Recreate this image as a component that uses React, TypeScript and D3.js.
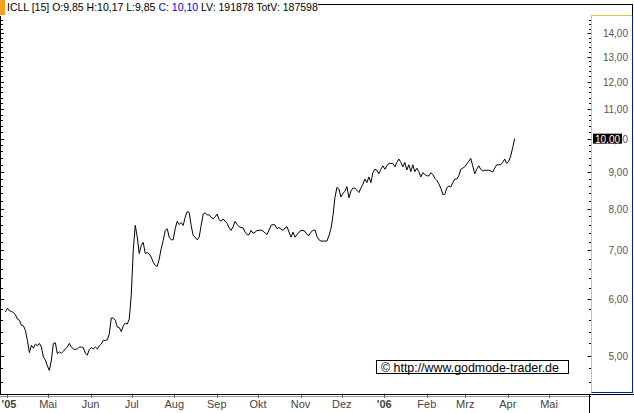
import { useEffect, useRef } from 'react'
import * as d3 from 'd3'

// header quote line
const headerLeft = 'ICLL [15] O:9,85 H:10,17 L:9,85 '
const headerClose = 'C: 10,10'
const headerRight = ' LV: 191878 TotV: 187598'
const copyright = '\u00A9 http://www.godmode-trader.de'

// series is sampled evenly between these two dates
const startDate = '2005-03-31'
const endDate = '2006-04-06'

// closes, left to right
const closesA = [
  5.75, 5.82, 5.77, 5.76, 5.74, 5.7, 5.62, 5.6, 5.51, 5.5,
  5.42, 5.25, 5.05, 5.17, 5.12, 5.19, 5.16, 5.2, 5.14, 4.98,
  4.93, 4.84, 4.77, 4.93, 5.2, 5.21, 5.03, 5.06, 5.04, 5.07,
  5.11, 5.14, 5.2, 5.14, 5.11, 5.1, 5.11, 5.14, 5.14, 5.13,
  5.04, 5.01, 5.1, 5.13, 5.11, 5.14, 5.11, 5.16, 5.19, 5.25,
  5.25, 5.26, 5.36, 5.64, 5.64, 5.6, 5.48, 5.47, 5.4, 5.5,
  5.55, 5.53, 5.62, 6.06, 7.0, 7.58, 7.3, 6.93, 7.11, 7.18,
  6.93, 6.95, 6.92, 6.85, 6.74, 6.67, 6.65, 6.81, 7.04, 7.22,
  7.46, 7.5, 7.3, 7.24, 7.24,
]
const closesB = [
  7.5, 7.68, 7.6, 7.65, 7.58, 7.78, 7.92, 7.9, 7.58, 7.34,
  7.3, 7.24, 7.3, 7.58, 7.86, 7.89, 7.84, 7.84, 7.78, 7.74,
  7.79, 7.86, 7.72, 7.68, 7.74, 7.68, 7.63, 7.52, 7.46, 7.55,
  7.68, 7.6, 7.55, 7.53, 7.52, 7.42, 7.36, 7.36, 7.46, 7.39,
  7.42, 7.46, 7.46, 7.47, 7.44, 7.4, 7.36, 7.47, 7.58, 7.6,
  7.59, 7.5, 7.53, 7.49, 7.46, 7.52, 7.55, 7.42, 7.3, 7.42,
  7.3, 7.36, 7.42, 7.46, 7.46, 7.44, 7.36, 7.34, 7.42, 7.46,
  7.47, 7.32, 7.24, 7.21, 7.21, 7.21, 7.21, 7.34, 7.5, 7.82,
  8.29, 8.56, 8.51,
]
const closesC = [
  8.3, 8.4, 8.45, 8.58, 8.28, 8.46, 8.54, 8.54, 8.48, 8.42,
  8.54, 8.65, 8.79, 8.69, 8.85, 8.69, 8.97, 9.07, 9.04, 8.94,
  9.07, 9.17, 9.07, 9.17, 9.24, 9.24, 9.24, 9.14, 9.27, 9.37,
  9.27, 9.14, 9.27, 9.05, 9.2, 9.0, 9.2, 9.0, 9.1, 9.0,
  8.85, 8.97, 8.92, 8.88, 8.88, 8.97, 8.92, 8.81, 8.75, 8.66,
  8.54, 8.37, 8.37, 8.54, 8.6, 8.57, 8.69, 8.79, 8.79, 8.88,
  9.07, 9.1, 9.14, 9.22, 9.3, 9.39, 9.17, 8.94, 9.07, 9.17,
  9.07, 9.02, 9.04, 9.04, 9.04, 9.02, 8.99, 9.1, 9.2, 9.2,
  9.2, 9.27, 9.37, 9.24, 9.3, 9.46, 9.72, 10.0,
]

// x axis: month starts and their labels (year labels are bold)
const monthDates = [
  '2005-04-01', '2005-05-01', '2005-06-01', '2005-07-01', '2005-08-01', '2005-09-01', '2005-10-01',
  '2005-11-01', '2005-12-01', '2006-01-01', '2006-02-01', '2006-03-01', '2006-04-01', '2006-05-01',
]
const monthLabels = ["'05", 'Mai', 'Jun', 'Jul', 'Aug', 'Sep', 'Okt', 'Nov', 'Dez', "'06", 'Feb', 'Mrz', 'Apr', 'Mai']
const yearLabels = ["'05", "'06"]

// y axis (log)
const priceTicks = [5, 6, 7, 8, 9, 10, 11, 12, 13, 14]
const minorTicks = [
  4.4, 4.6, 4.8, 5.2, 5.4, 5.6, 5.8, 6.2, 6.4, 6.6, 6.8, 7.2, 7.4, 7.6, 7.8, 8.2, 8.4, 8.6, 8.8,
  9.2, 9.4, 9.6, 9.8, 10.2, 10.4, 10.6, 10.8, 11.2, 11.4, 11.6, 11.8, 12.2, 12.4, 12.6, 12.8,
  13.2, 13.4, 13.6, 13.8, 14.2, 14.4, 14.6,
]

const W = 634
const H = 413
const FONT = '"Liberation Sans", Arial, sans-serif'
const fmt = (v: number) => v.toFixed(2).replace('.', ',')

export default function App() {
  const svgRef = useRef<SVGSVGElement>(null)

  useEffect(() => {
    document.body.style.margin = '0'
    if (!svgRef.current) return
    const svg = d3.select(svgRef.current)
    svg.selectAll('*').remove()

    const closes = [...closesA, ...closesB, ...closesC]
    const parse = d3.utcParse('%Y-%m-%d')
    const t0 = parse(startDate)!.getTime()
    const t1 = parse(endDate)!.getTime()
    const data = closes.map((v, i) => ({
      date: new Date(t0 + ((t1 - t0) * i) / (closes.length - 1)),
      value: v,
    }))

    const plot = { left: 1, right: 590, top: 15, bottom: 393 }

    const x = d3
      .scaleUtc()
      .domain([parse('2005-05-01')!, parse('2006-05-01')!])
      .range([48, 549])
    const y = d3.scaleLog().domain([5, 14]).range([355.7, 33.3])

    svg.append('rect').attr('width', W).attr('height', H).attr('fill', '#fff')

    // clip
    svg
      .append('clipPath')
      .attr('id', 'plotclip')
      .append('rect')
      .attr('x', plot.left)
      .attr('y', plot.top)
      .attr('width', plot.right - plot.left)
      .attr('height', plot.bottom - plot.top)

    // price line
    const line = d3
      .line<{ date: Date; value: number }>()
      .x((d) => x(d.date))
      .y((d) => y(d.value))
    svg
      .append('path')
      .datum(data)
      .attr('clip-path', 'url(#plotclip)')
      .attr('d', line)
      .attr('fill', 'none')
      .attr('stroke', '#000')
      .attr('stroke-width', 1)

    // left edge with ticks
    svg.append('line').attr('x1', 0.5).attr('x2', 0.5).attr('y1', 16).attr('y2', 395).attr('stroke', '#000')
    svg
      .selectAll('.lminor')
      .data(minorTicks)
      .enter()
      .append('line')
      .attr('x1', 0)
      .attr('x2', 3)
      .attr('y1', (d) => Math.round(y(d)) + 0.5)
      .attr('y2', (d) => Math.round(y(d)) + 0.5)
      .attr('stroke', '#000')
    svg
      .selectAll('.lmajor')
      .data(priceTicks)
      .enter()
      .append('line')
      .attr('x1', 0)
      .attr('x2', 4)
      .attr('y1', (d) => Math.round(y(d)) + 0.5)
      .attr('y2', (d) => Math.round(y(d)) + 0.5)
      .attr('stroke', '#000')

    // right axis panel
    const axisX = 591.5
    svg.append('line').attr('x1', 318).attr('x2', 633).attr('y1', 4.5).attr('y2', 4.5).attr('stroke', '#000')
    svg.append('line').attr('x1', 632.5).attr('x2', 632.5).attr('y1', 4).attr('y2', 15).attr('stroke', '#000')
    svg.append('line').attr('x1', axisX).attr('x2', 633).attr('y1', 15.5).attr('y2', 15.5).attr('stroke', '#f0c040')
    svg.append('line').attr('x1', axisX).attr('x2', axisX).attr('y1', 15).attr('y2', 393).attr('stroke', '#f0c040')
    svg.append('line').attr('x1', 632.5).attr('x2', 632.5).attr('y1', 15).attr('y2', 393).attr('stroke', '#0020a0')
    svg.append('line').attr('x1', axisX).attr('x2', 633).attr('y1', 392.5).attr('y2', 392.5).attr('stroke', '#0020a0')

    svg
      .selectAll('.rminor')
      .data(minorTicks)
      .enter()
      .append('line')
      .attr('x1', 589)
      .attr('x2', 591)
      .attr('y1', (d) => Math.round(y(d)) + 0.5)
      .attr('y2', (d) => Math.round(y(d)) + 0.5)
      .attr('stroke', '#000')
    svg
      .selectAll('.rmajor')
      .data(priceTicks)
      .enter()
      .append('line')
      .attr('x1', 587.5)
      .attr('x2', 591)
      .attr('y1', (d) => Math.round(y(d)) + 0.5)
      .attr('y2', (d) => Math.round(y(d)) + 0.5)
      .attr('stroke', '#000')

    svg
      .selectAll('.ylabel')
      .data(priceTicks)
      .enter()
      .append('text')
      .attr('x', 628)
      .attr('y', (d) => y(d) + 4)
      .attr('text-anchor', 'end')
      .attr('font-family', FONT)
      .attr('font-size', 10)
      .attr('fill', '#555')
      .text((d) => fmt(d))

    // last price box
    const last = data[data.length - 1]
    const ly = y(last.value)
    svg
      .append('rect')
      .attr('x', 593)
      .attr('y', ly - 5)
      .attr('width', 29)
      .attr('height', 10)
      .attr('fill', '#000')
    svg
      .append('text')
      .attr('x', 607.5)
      .attr('y', ly + 4)
      .attr('text-anchor', 'middle')
      .attr('font-family', FONT)
      .attr('font-size', 10)
      .attr('fill', '#fff')
      .text(fmt(last.value))

    // x axis
    svg.append('line').attr('x1', 0).attr('x2', W).attr('y1', 394.5).attr('y2', 394.5).attr('stroke', '#000')
    svg.append('line').attr('x1', 0).attr('x2', 589).attr('y1', 396.5).attr('y2', 396.5).attr('stroke', '#999')
    svg.append('line').attr('x1', 589.5).attr('x2', 589.5).attr('y1', 394).attr('y2', H).attr('stroke', '#000')

    const months = monthDates.map((d, i) => ({ date: parse(d)!, label: monthLabels[i] }))
    svg
      .selectAll('.xtick')
      .data(months)
      .enter()
      .append('line')
      .attr('x1', (d) => Math.round(x(d.date)) + 0.5)
      .attr('x2', (d) => Math.round(x(d.date)) + 0.5)
      .attr('y1', 395)
      .attr('y2', 398)
      .attr('stroke', '#666')
    svg
      .selectAll('.xlabel')
      .data(months)
      .enter()
      .append('text')
      .attr('x', (d) => Math.max(x(d.date), 9))
      .attr('y', 408)
      .attr('text-anchor', 'middle')
      .attr('font-family', FONT)
      .attr('font-size', 11)
      .attr('font-weight', (d) => (yearLabels.includes(d.label) ? 'bold' : 'normal'))
      .attr('fill', '#444')
      .text((d) => d.label)

    // header
    svg.append('rect').attr('x', 0).attr('y', 0).attr('width', 5).attr('height', 15).attr('fill', '#f5a01a')
    const header = svg
      .append('text')
      .attr('x', 7)
      .attr('y', 11)
      .attr('font-family', FONT)
      .attr('font-size', 10.5)
      .attr('fill', '#000')
      .attr('xml:space', 'preserve')
    header.append('tspan').text(headerLeft)
    header.append('tspan').attr('fill', '#0000e0').text(headerClose)
    header.append('tspan').text(headerRight)

    // copyright box
    svg
      .append('rect')
      .attr('x', 376.5)
      .attr('y', 360.5)
      .attr('width', 192)
      .attr('height', 13)
      .attr('fill', '#fff')
      .attr('stroke', '#000')
    svg
      .append('text')
      .attr('x', 381)
      .attr('y', 371.5)
      .attr('font-family', FONT)
      .attr('font-size', 12.4)
      .attr('fill', '#000')
      .text(copyright)
  }, [])

  return <svg ref={svgRef} width={W} height={H} style={{ display: 'block' }} />
}
